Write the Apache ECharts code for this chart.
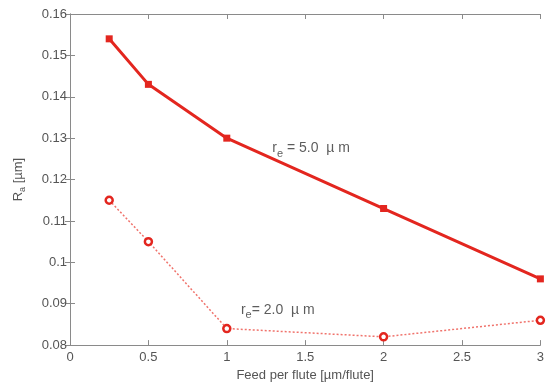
<!DOCTYPE html>
<html><head><meta charset="utf-8">
<script src="https://cdn.jsdelivr.net/npm/echarts@6/dist/echarts.min.js"></script>
<style>html,body{margin:0;padding:0;background:#fff}#c{width:547px;height:387px}</style>
</head><body><div id="c"></div>
<script>
const feeds = [0.25, 0.5, 1, 2, 3];
const ra50 = [0.154, 0.143, 0.130, 0.113, 0.096];
const ra20 = [0.115, 0.105, 0.084, 0.082, 0.086];
const xTicks = [0, 0.5, 1, 1.5, 2, 2.5, 3];
const yTicks = [0.08, 0.09, 0.10, 0.11, 0.12, 0.13, 0.14, 0.15, 0.16];
const notes = [
  {x: 1.29, y: 0.1275, name: 'r', sub: 'e', rest: ' = 5.0  µ m'},
  {x: 1.09, y: 0.0885, name: 'r', sub: 'e', rest: '= 2.0  µ m'}
];

const FONT = 'Liberation Sans, Arial, sans-serif';
const red = '#e3261f';
const chart = echarts.init(document.getElementById('c'));
const axisLine = {show: true, lineStyle: {color: '#8a8a8a', width: 1}};
const tick = {show: true, inside: true, length: 5, lineStyle: {color: '#8a8a8a'}};
const lbl = {color: '#555', fontFamily: FONT, fontSize: 13};

chart.setOption({
  animation: false,
  backgroundColor: '#fff',
  grid: {left: 70, right: 2, top: 14, bottom: 37},
  xAxis: [{
    type: 'value', min: xTicks[0], max: xTicks[xTicks.length-1], interval: 0.5,
    axisLine: axisLine, axisTick: tick, splitLine: {show: false},
    axisLabel: Object.assign({margin: 6}, lbl),
    name: 'Feed per flute [µm/flute]', nameLocation: 'middle', nameGap: 19,
    nameTextStyle: {color: '#555', fontFamily: FONT, fontSize: 13}
  }, {
    type: 'value', position: 'top', min: 0, max: 3, interval: 0.5,
    axisLine: axisLine, axisTick: tick, axisLabel: {show: false}, splitLine: {show: false}
  }],
  yAxis: [{
    type: 'value', min: yTicks[0], max: yTicks[yTicks.length-1], interval: 0.01,
    axisLine: axisLine, axisTick: tick, splitLine: {show: false},
    axisLabel: Object.assign({margin: 3, formatter: v => String(+v.toFixed(2))}, lbl),
    name: '{m|R}{s|a}{m| [µm]}', nameLocation: 'middle', nameGap: 45, nameRotate: 90,
    nameTextStyle: {rich: {
      m: {color: '#555', fontFamily: FONT, fontSize: 13},
      s: {color: '#555', fontFamily: FONT, fontSize: 9, padding: [0, 0, -8, 0]}
    }}
  }, {
    type: 'value', position: 'right', min: 0.08, max: 0.16, interval: 0.01,
    axisLine: axisLine, axisTick: tick, axisLabel: {show: false}, splitLine: {show: false}
  }],
  series: [{
    type: 'line', data: feeds.map((x, i) => [x, ra50[i]]),
    symbol: 'rect', symbolSize: 7,
    lineStyle: {color: red, width: 3}, itemStyle: {color: red}
  }, {
    type: 'line', data: feeds.map((x, i) => [x, ra20[i]]),
    symbol: 'circle', symbolSize: 7,
    lineStyle: {color: '#f0736c', width: 1.5, type: [2, 2]},
    itemStyle: {color: '#fff', borderColor: red, borderWidth: 2.5}
  }, {
    type: 'scatter', symbolSize: 0, silent: true,
    data: notes.map(n => ({value: [n.x, n.y], n: n})),
    label: {
      show: true, position: 'right', distance: 0,
      formatter: p => '{m|' + p.data.n.name + '}{s|' + p.data.n.sub + '}{m|' + p.data.n.rest + '}',
      rich: {
        m: {color: '#333', fontFamily: FONT, fontSize: 14},
        s: {color: '#333', fontFamily: FONT, fontSize: 11, padding: [0, 0, -10, 0]}
      }
    }
  }]
});
</script></body></html>
